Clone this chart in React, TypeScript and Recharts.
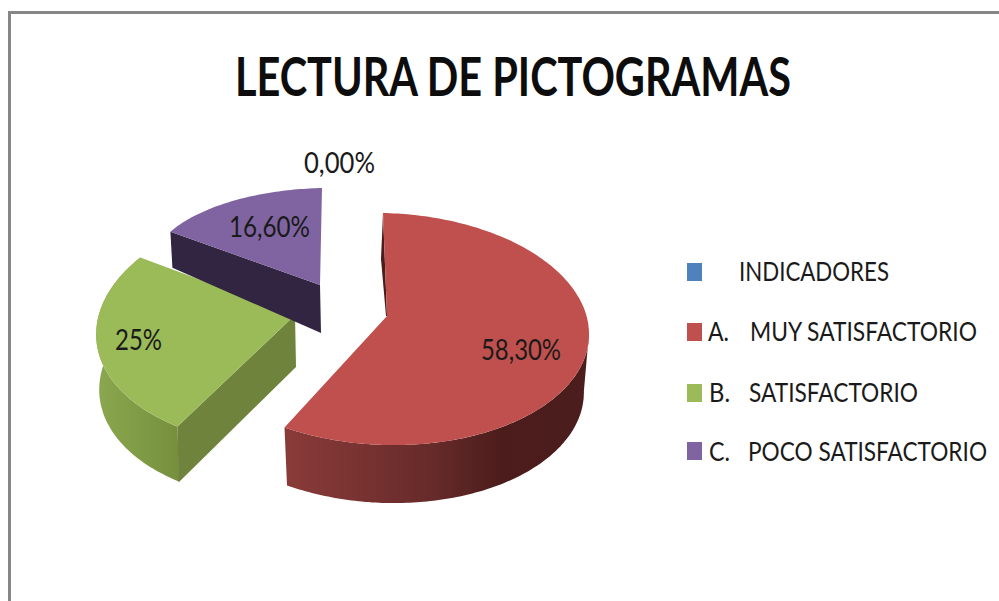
import React from "react";
import { PieChart, Pie, Legend } from "recharts";

const categories = ["INDICADORES", "A.|MUY SATISFACTORIO", "B.|SATISFACTORIO", "C.|POCO SATISFACTORIO"];
const shares = [0, 58.3, 25, 16.6];
const shareLabels = ["0,00%", "58,30%", "25%", "16,60%"];
const colors = ["#4f81bd", "#bf504d", "#9bbb59", "#8064a2"];
const titleText = "LECTURA DE PICTOGRAMAS";

const rows = categories.map((name, i) => ({ name, value: shares[i], fill: colors[i], label: shareLabels[i] }));

const CX = 340;
const CY = 320;
const FONT = "Lato, sans-serif";
const INK = "#1a1a1a";

type V = [number, number];
// Projection of each exploded slice: ellipse centre offset, axes, apex offset, wall depth
const PROJ: Record<number, { c: V; u: V; v: V; apex: V; depth: number }> = {
  1: { c: [45, 9], u: [204, 4], v: [2, 116], apex: [47, -4], depth: 58 },
  2: { c: [-34, 4], u: [208, 6], v: [-28, 122], apex: [-45, -5], depth: 55 },
  3: { c: [-10, -51], u: [180, -4], v: [8, 81], apex: [-20, -35], depth: 48 },
};

const LABEL_POS: V[] = [[304, 173], [481, 360], [115, 350], [229, 237]];
const LABEL_W = [71, 80, 47, 81];

const LEGEND_ROWS = [
  { box: 263, base: 281, lead: null, text: 739, w: 150 },
  { box: 323, base: 341, lead: 708, text: 750, w: 227 },
  { box: 384, base: 402, lead: 709, text: 749, w: 169 },
  { box: 442, base: 461, lead: 709, text: 748, w: 239 },
];

function arc(p: { c: V; u: V; v: V }, cx: number, cy: number, from: number, to: number, dy = 0, sx = 1) {
  const out: V[] = [];
  const n = Math.max(2, Math.ceil(Math.abs(to - from)));
  for (let i = 0; i <= n; i++) {
    const t = ((from + ((to - from) * i) / n) * Math.PI) / 180;
    const s = Math.sin(t);
    const c = -Math.cos(t);
    out.push([cx + p.c[0] + sx * p.u[0] * s + p.v[0] * c, cy + p.c[1] + dy + p.u[1] * s + p.v[1] * c]);
  }
  return out;
}
const toPath = (pts: V[]) => "M" + pts.map((q) => q[0].toFixed(1) + " " + q[1].toFixed(1)).join("L") + "Z";

function SliceShape(props: any) {
  const { cx, cy, startAngle, endAngle, fill, index } = props;
  const p = PROJ[index];
  if (!p || startAngle === endAngle) return <g />;
  const a0 = 90 - startAngle;
  const a1 = 90 - endAngle;
  const top = arc(p, cx, cy, a0, a1);
  const apex: V = [cx + p.apex[0], cy + p.apex[1]];
  const surface = <path d={toPath([apex, ...top])} fill={fill} />;
  if (index === 1) {
    const wallTop = arc(p, cx, cy, 90, a1);
    const wallBot = arc(p, cx, cy, 90, a1, p.depth, 0.975).reverse();
    const first = top[0];
    return (
      <g>
        <defs>
          <linearGradient id="redWall" x1="0" y1="0" x2="1" y2="0">
            <stop offset="0" stopColor="#8a3b39" />
            <stop offset="0.5" stopColor="#652a29" />
            <stop offset="0.72" stopColor="#4b1c1b" />
            <stop offset="1" stopColor="#4b1d1c" />
          </linearGradient>
        </defs>
        <path d={toPath([...wallTop, ...wallBot])} fill="url(#redWall)" />
        <path d={toPath([first, [first[0] - 2, first[1] + 46], [apex[0] - 1, apex[1]], apex])} fill="#4b1c1b" />
        {surface}
      </g>
    );
  }
  if (index === 2) {
    const wallTop = arc(p, cx, cy, a0, a1);
    const wallBot = arc(p, cx, cy, a0, a1, p.depth, 0.985).reverse();
    const corner = top[0];
    const cut = [apex, corner, [corner[0] + 1, corner[1] + 56], [apex[0] + 1, apex[1] + 52]] as V[];
    return (
      <g>
        <defs>
          <linearGradient id="greenWall" x1="0" y1="0" x2="1" y2="0">
            <stop offset="0" stopColor="#8aa84f" />
            <stop offset="1" stopColor="#768f3d" />
          </linearGradient>
        </defs>
        <path d={toPath([...wallTop, ...wallBot])} fill="url(#greenWall)" />
        <path d={toPath(cut)} fill="#6f833c" />
        {surface}
      </g>
    );
  }
  const corner = top[0];
  return (
    <g>
      <path d={toPath([apex, corner, [corner[0] + 2, corner[1] + 36], [apex[0] + 1, apex[1] + p.depth]])} fill="#312541" />
      {surface}
    </g>
  );
}

function renderShareLabel(props: any) {
  const { index } = props;
  const [x, y] = LABEL_POS[index];
  return (
    <text x={x} y={y} textLength={LABEL_W[index]} lengthAdjust="spacingAndGlyphs" fontFamily={FONT} fontSize={29} fill={INK}>
      {rows[index].label}
    </text>
  );
}

function LegendText(props: { x: number; y: number; w: number; children: React.ReactNode }) {
  return (
    <text
      transform={`translate(${props.x} ${props.y}) scale(1 1.24)`}
      textLength={props.w}
      lengthAdjust="spacingAndGlyphs"
      fontFamily={FONT}
      fontSize={21}
      fill={INK}
    >
      {props.children}
    </text>
  );
}

function LegendContent(props: any) {
  const items = props.payload || [];
  return (
    <svg width={999} height={601} style={{ position: "absolute", left: 0, top: 0, display: "block" }}>
      {items.map((it: any, i: number) => {
        const r = LEGEND_ROWS[i];
        const parts = String(it.value).split("|");
        const main = parts[parts.length - 1];
        return (
          <g key={i}>
            <rect x={687} y={r.box} width={15} height={18} fill={it.color} />
            {parts.length > 1 && r.lead !== null && (
              <LegendText x={r.lead} y={r.base} w={21}>
                {parts[0]}
              </LegendText>
            )}
            <LegendText x={r.text} y={r.base} w={r.w}>
              {main}
            </LegendText>
          </g>
        );
      })}
    </svg>
  );
}

export default function App() {
  return (
    <div style={{ position: "absolute", left: 0, top: 0, width: 999, height: 601, overflow: "hidden", background: "#fff" }}>
      <div
        style={{
          position: "absolute",
          left: 8,
          top: 11,
          right: 0,
          bottom: 0,
          borderTop: "3px solid #868686",
          borderLeft: "3px solid #868686",
        }}
      />
      <div style={{ position: "absolute", left: 0, top: 0 }}>
        <PieChart width={999} height={601} margin={{ top: 0, right: 0, bottom: 0, left: 0 }}>
          <text
            x={235}
            y={96}
            textLength={556}
            lengthAdjust="spacingAndGlyphs"
            fontFamily={FONT}
            fontWeight={700}
            fontSize={54}
            fill="#0d0d0d"
          >
            {titleText}
          </text>
          <Pie
            data={rows}
            dataKey="value"
            nameKey="name"
            cx={CX}
            cy={CY}
            innerRadius={0}
            outerRadius={200}
            startAngle={90}
            endAngle={-270}
            stroke="none"
            shape={SliceShape}
            label={renderShareLabel}
            labelLine={false}
            isAnimationActive={false}
          />
          <Legend
            content={LegendContent}
            itemSorter={null}
            wrapperStyle={{ position: "absolute", left: 0, top: 0, width: 999, height: 601, pointerEvents: "none" }}
          />
        </PieChart>
      </div>
    </div>
  );
}
